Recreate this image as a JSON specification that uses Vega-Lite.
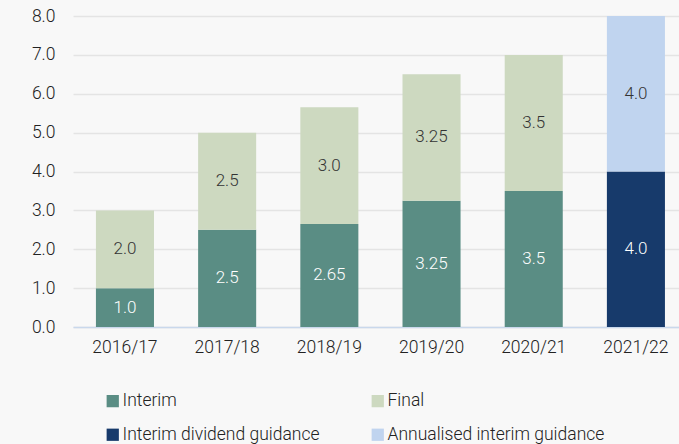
{
  "$schema": "https://vega.github.io/schema/vega-lite/v6.json",
  "width": 606,
  "height": 311,
  "autosize": {"type": "none"},
  "padding": {"left": 73, "top": 16, "right": 0, "bottom": 117},
  "background": "#f8f8f8",
  "config": {
    "view": {"stroke": null},
    "font": "Roboto",
    "axis": {"labelFont": "Roboto", "labelFontSize": 17.5, "labelFontWeight": 300, "labelColor": "#222222", "titleFontSize": 0}
  },
  "data": {
    "values": [
      {"year": "2016/17", "type": "Interim", "part": 1, "value": 1.0, "label": "1.0"},
      {"year": "2016/17", "type": "Final", "part": 2, "value": 2.0, "label": "2.0"},
      {"year": "2017/18", "type": "Interim", "part": 1, "value": 2.5, "label": "2.5"},
      {"year": "2017/18", "type": "Final", "part": 2, "value": 2.5, "label": "2.5"},
      {"year": "2018/19", "type": "Interim", "part": 1, "value": 2.65, "label": "2.65"},
      {"year": "2018/19", "type": "Final", "part": 2, "value": 3.0, "label": "3.0"},
      {"year": "2019/20", "type": "Interim", "part": 1, "value": 3.25, "label": "3.25"},
      {"year": "2019/20", "type": "Final", "part": 2, "value": 3.25, "label": "3.25"},
      {"year": "2020/21", "type": "Interim", "part": 1, "value": 3.5, "label": "3.5"},
      {"year": "2020/21", "type": "Final", "part": 2, "value": 3.5, "label": "3.5"},
      {"year": "2021/22", "type": "Interim dividend guidance", "part": 1, "value": 4.0, "label": "4.0"},
      {"year": "2021/22", "type": "Annualised interim guidance", "part": 2, "value": 4.0, "label": "4.0"}
    ]
  },
  "transform": [
    {"stack": "value", "groupby": ["year"], "sort": [{"field": "part", "order": "ascending"}], "as": ["v0", "v1"]},
    {"calculate": "(datum.v0 + datum.v1) / 2", "as": "mid"}
  ],
  "encoding": {
    "x": {
      "field": "year", "type": "nominal", "title": null,
      "scale": {"paddingInner": 0.432, "paddingOuter": 0.181, "align": 0.62},
      "axis": {"labelAngle": 0, "ticks": false, "domainColor": "#c9d8ec", "domainWidth": 1.5, "labelPadding": 11, "grid": false}
    }
  },
  "layer": [
    {
      "mark": {"type": "bar"},
      "encoding": {
        "y": {
          "field": "v0", "type": "quantitative", "title": null,
          "scale": {"domain": [0, 8], "nice": false},
          "axis": {"values": [0, 1, 2, 3, 4, 5, 6, 7, 8], "labelOverlap": false, "format": ".1f", "domain": false, "ticks": false, "labelPadding": 18, "gridColor": "#e4e4e4", "gridWidth": 1.5}
        },
        "y2": {"field": "v1"},
        "color": {
          "field": "type", "type": "nominal", "title": null,
          "scale": {
            "domain": ["Interim", "Final", "Interim dividend guidance", "Annualised interim guidance"],
            "range": ["#5a8d84", "#cdd9c0", "#173a6b", "#c0d4ef"]
          },
          "legend": {
            "orient": "none", "legendX": 31, "legendY": 376, "direction": "horizontal", "columns": 2,
            "symbolType": "square", "symbolSize": 150, "symbolStrokeWidth": 0,
            "labelFont": "Roboto", "labelFontSize": 17.5, "labelFontWeight": 300, "labelColor": "#222222", "labelOffset": 1, "labelLimit": 400,
            "columnPadding": 49, "rowPadding": 15, "padding": 0
          }
        }
      }
    },
    {
      "mark": {"type": "text", "font": "Roboto", "fontSize": 17, "fontWeight": 300},
      "encoding": {
        "y": {
          "field": "mid", "type": "quantitative", "title": null,
          "axis": {"values": [0, 1, 2, 3, 4, 5, 6, 7, 8], "labelOverlap": false, "format": ".1f", "domain": false, "ticks": false, "labelPadding": 18, "gridColor": "#e4e4e4", "gridWidth": 1.5}
        },
        "text": {"field": "label", "type": "nominal"},
        "color": {
          "condition": {"test": "datum.part == 1", "value": "#ffffff"},
          "value": "#333333"
        }
      }
    }
  ]
}
